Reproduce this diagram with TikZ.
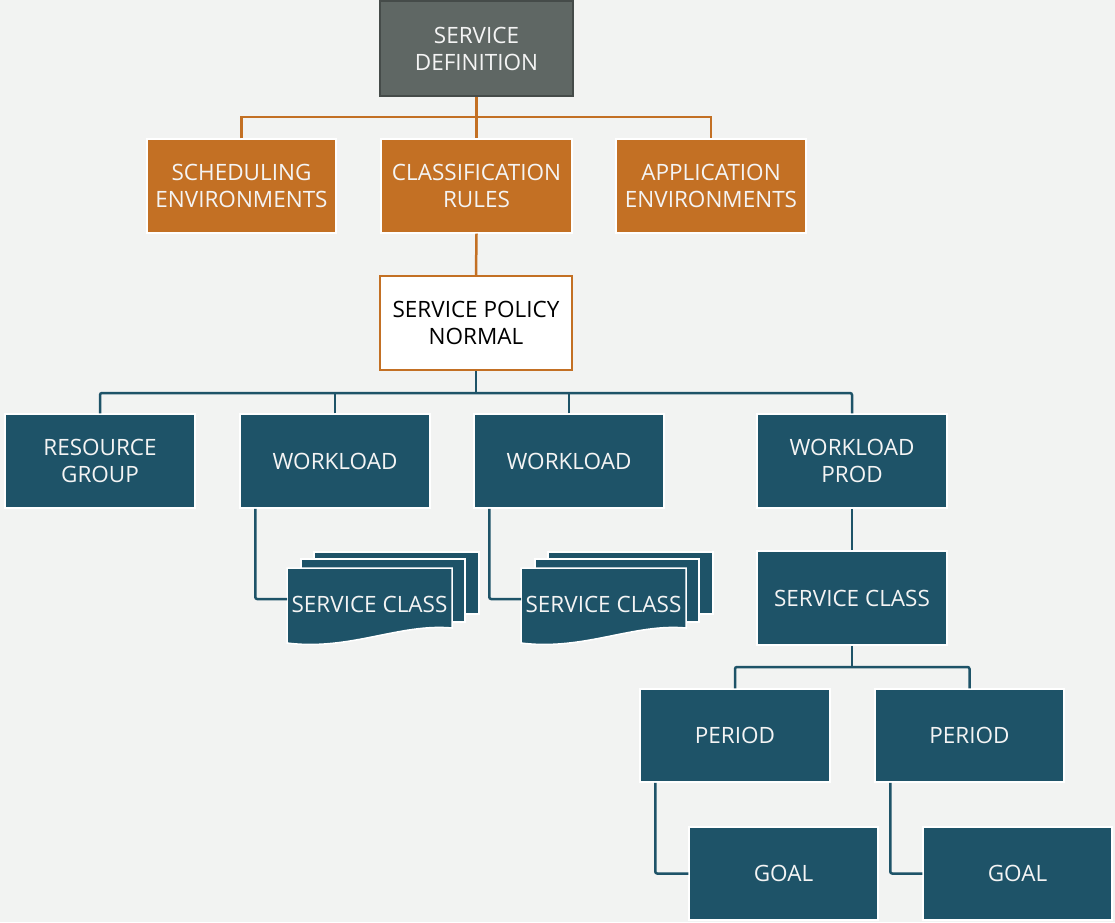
\documentclass[tikz,border=0pt]{standalone}
\usepackage{fontspec}
\setmainfont{Open Sans}
\usetikzlibrary{calc}
\definecolor{bg}{HTML}{F2F3F2}
\definecolor{tealc}{HTML}{1E5368}
\definecolor{orng}{HTML}{C37024}
\definecolor{gray1}{HTML}{5F6764}
\definecolor{gray2}{HTML}{454B49}
\definecolor{txtw}{HTML}{F4F4F4}
\tikzset{
  base/.style={rectangle, inner sep=0pt, align=center, font=\fontsize{22.5}{27}\selectfont, text=txtw, minimum width=190pt, minimum height=94pt},
  tbox/.style={base, fill=tealc, draw=white, line width=1.5pt},
  obox/.style={base, fill=orng, draw=white, line width=1.2pt},
  pbox/.style={base, fill=white, draw=orng, line width=2pt, text=black},
  gbox/.style={base, fill=gray1, draw=gray2, line width=2.5pt},
  tline/.style={draw=tealc, line width=2.5pt, rounded corners=2pt},
  oline/.style={draw=orng, line width=2.5pt},
  docsheet/.style={fill=tealc, draw=white, line width=1.5pt},
}
\begin{document}
\begin{tikzpicture}[x=1pt,y=-1pt]
\fill[bg] (0,0) rectangle (1115,922);
\useasboundingbox (0,0) rectangle (1115,922);

% top level
\node[gbox, minimum width=193pt, minimum height=95pt] (sd) at (476.5,48.5) {SERVICE\\DEFINITION};
\node[obox, minimum width=189pt] (sched) at (241.5,186) {SCHEDULING\\ENVIRONMENTS};
\node[obox, minimum width=191pt] (cls) at (476.5,186) {CLASSIFICATION\\RULES};
\node[obox] (app) at (711,186) {APPLICATION\\ENVIRONMENTS};
\node[pbox, minimum width=192pt] (pol) at (476,323) {SERVICE POLICY\\NORMAL};

\coordinate (j1) at (476.5,117);
\draw[oline] (sched.north) |- (j1) -| (app.north);
\draw[oline] (sd.south) -- (cls.north);
\draw[oline] (cls.south) -- (pol.north);

% second level
\node[tbox] (rg) at (100,461) {RESOURCE\\GROUP};
\node[tbox] (wl1) at (335,461) {WORKLOAD};
\node[tbox] (wl2) at (569,461) {WORKLOAD};
\node[tbox] (wp) at (852,461) {WORKLOAD\\PROD};

\coordinate (j2) at (476,393);
\draw[tline] (rg.north) |- (j2) -| (wp.north);
\draw[tline] (wl1.north) -- (wl1.north |- j2);
\draw[tline] (wl2.north) -- (wl2.north |- j2);
\draw[tline, rounded corners=0pt] (pol.south) -- (j2);

% document stacks
\foreach \i/\dx in {1/0,2/234}{
  \begin{scope}[xshift=\dx pt]
    \draw[docsheet] (314,552) rectangle (479,614);
    \draw[docsheet] (301,559) rectangle (465,622);
    \draw[docsheet] (287,568) -- (452,568) -- (452,628)
      .. controls (400,623) and (350,651) .. (287,643) -- cycle;
    \node[base, minimum width=0pt, minimum height=0pt] (sc\i) at (369.5,604) {SERVICE CLASS};
    \coordinate (scin\i) at (287,599);
  \end{scope}
}
\draw[tline] ($(wl1.south west)+(16,0)$) |- (scin1);
\draw[tline] ($(wl2.south west)+(16,0)$) |- (scin2);

% prod branch
\node[tbox] (sc) at (852,598) {SERVICE CLASS};
\draw[tline] (wp.south) -- (sc.north);

\node[tbox, minimum height=93pt] (p1) at (735,735.5) {PERIOD};
\node[tbox, minimum height=93pt, minimum width=189pt] (p2) at (969.5,735.5) {PERIOD};
\coordinate (j3) at (852,667);
\draw[tline] (p1.north) |- (j3) -| (p2.north);
\draw[tline, rounded corners=0pt] (sc.south) -- (j3);

\node[tbox, minimum height=93pt, minimum width=189pt] (g1) at (783.5,873.5) {GOAL};
\node[tbox, minimum height=93pt, minimum width=189pt] (g2) at (1017.5,873.5) {GOAL};
\draw[tline] ($(p1.south west)+(16,0)$) |- (g1.west);
\draw[tline] ($(p2.south west)+(16,0)$) |- (g2.west);
\end{tikzpicture}
\end{document}
